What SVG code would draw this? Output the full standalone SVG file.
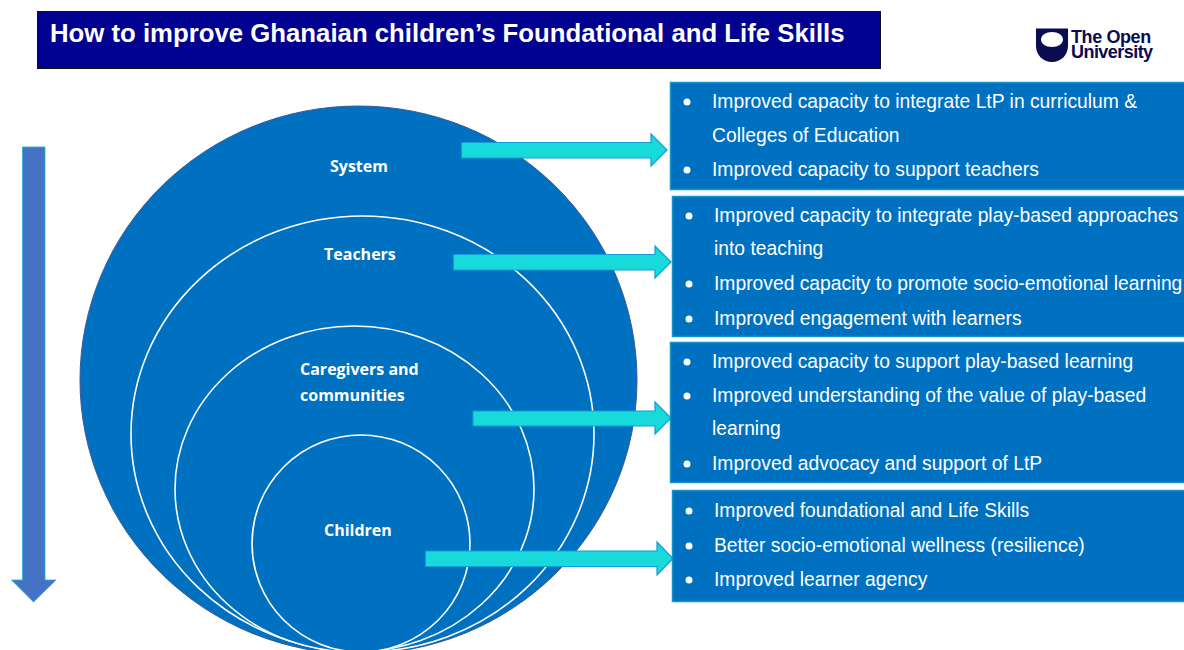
<svg xmlns="http://www.w3.org/2000/svg" width="1184" height="650" viewBox="0 0 1184 650">
<style>
.box{fill:#0070c0;stroke:#1595c9;stroke-width:1.5}
.ring{fill:#0070c0;stroke:#fff;stroke-width:1.6}
.arrow{fill:#18dada;stroke:#0f9ed5;stroke-width:1.2}
.t{font-family:"Liberation Sans",Arial,sans-serif;font-size:19.3px;fill:#fff}
.lab{font-family:"Open Sans","Noto Sans",sans-serif;font-size:16px;font-weight:700;fill:#fff}
.b{fill:#fff}
</style>
<rect width="1184" height="650" fill="#fff"/>
<g id="title"><rect x="37.500" y="11.500" width="843" height="57" fill="#000091" stroke="#111" stroke-width="1"/>
<text x="50" y="42" font-family="Liberation Sans,Arial,sans-serif" font-size="25.760" font-weight="700" fill="#fff">How to improve Ghanaian children’s Foundational and Life Skills</text></g>
<g id="logo"><path fill-rule="evenodd" fill="#0b0b50" d="M1036 28.500H1068V46C1068 55 1061 62 1052 62C1043 62 1036 55 1036 46ZM1052 32C1046 32 1041 35 1041 39.500C1041 44 1046 47 1052 47C1058 47 1063 44 1063 39.500C1063 35 1058 32 1052 32Z"/>
<text font-family="Liberation Sans,Arial,sans-serif" font-size="18" font-weight="700" fill="#0b0b50"><tspan x="1071" y="43" letter-spacing="-0.4">The Open</tspan><tspan x="1071" y="58" letter-spacing="-0.55">University</tspan></text></g>
<g id="down-arrow"><path d="M22.500 147H45V580H56L33.500 602L11.500 580H22.500Z" fill="#4472c4" stroke="#1fb3d8" stroke-width="0.800"/></g>
<g id="system"><ellipse cx="358.500" cy="380" rx="278.500" ry="274" fill="#0070c0" stroke="#3a5a98" stroke-width="1"/><text class="lab" x="330" y="172">System</text></g>
<g id="teachers"><ellipse class="ring" cx="362.500" cy="434" rx="231.500" ry="218"/><text class="lab" x="324" y="260">Teachers</text></g>
<g id="caregivers"><ellipse class="ring" cx="354.500" cy="489" rx="179.500" ry="163"/><text class="lab"><tspan x="300" y="375">Caregivers and</tspan><tspan x="300" y="401">communities</tspan></text></g>
<g id="children"><ellipse class="ring" cx="361" cy="543.500" rx="109" ry="108.500"/><text class="lab" x="324" y="536">Children</text></g>
<g id="connectors">
<path class="arrow" d="M461.500 142.500H651V134L667 150L651 166V158H461.500Z"/>
<path class="arrow" d="M453.500 254.500H655V246L671 262L655 278V270H453.500Z"/>
<path class="arrow" d="M473 411H655V402L671 418L655 434V426H473Z"/>
<path class="arrow" d="M425.500 551H657V542L673 558.500L657 575V566.500H425.500Z"/>
</g>
<g id="outcome-system"><rect class="box" x="670.500" y="82.500" width="520" height="107"/>
<circle class="b" cx="687" cy="102" r="3.500"/><circle class="b" cx="687" cy="170" r="3.500"/>
<text class="t"><tspan x="712" y="108">Improved capacity to integrate LtP in curriculum &amp;</tspan><tspan x="712" y="142">Colleges of Education</tspan><tspan x="712" y="176">Improved capacity to support teachers</tspan></text></g>
<g id="outcome-teachers"><rect class="box" x="672.500" y="196.500" width="520" height="140"/>
<circle class="b" cx="689" cy="216" r="3.500"/><circle class="b" cx="689" cy="284" r="3.500"/><circle class="b" cx="689" cy="319" r="3.500"/>
<text class="t"><tspan x="714" y="222">Improved capacity to integrate play-based approaches</tspan><tspan x="714" y="255">into teaching</tspan><tspan x="714" y="290">Improved capacity to promote socio-emotional learning</tspan><tspan x="714" y="325">Improved engagement with learners</tspan></text></g>
<g id="outcome-caregivers"><rect class="box" x="670.500" y="342.500" width="520" height="140"/>
<circle class="b" cx="687" cy="362" r="3.500"/><circle class="b" cx="687" cy="396" r="3.500"/><circle class="b" cx="687" cy="464" r="3.500"/>
<text class="t"><tspan x="712" y="368">Improved capacity to support play-based learning</tspan><tspan x="712" y="402">Improved understanding of the value of play-based</tspan><tspan x="712" y="435">learning</tspan><tspan x="712" y="470">Improved advocacy and support of LtP</tspan></text></g>
<g id="outcome-children"><rect class="box" x="672.500" y="490.500" width="520" height="111"/>
<circle class="b" cx="689" cy="511" r="3.500"/><circle class="b" cx="689" cy="546" r="3.500"/><circle class="b" cx="689" cy="580" r="3.500"/>
<text class="t"><tspan x="714" y="517">Improved foundational and Life Skills</tspan><tspan x="714" y="552">Better socio-emotional wellness (resilience)</tspan><tspan x="714" y="586">Improved learner agency</tspan></text></g>
</svg>
